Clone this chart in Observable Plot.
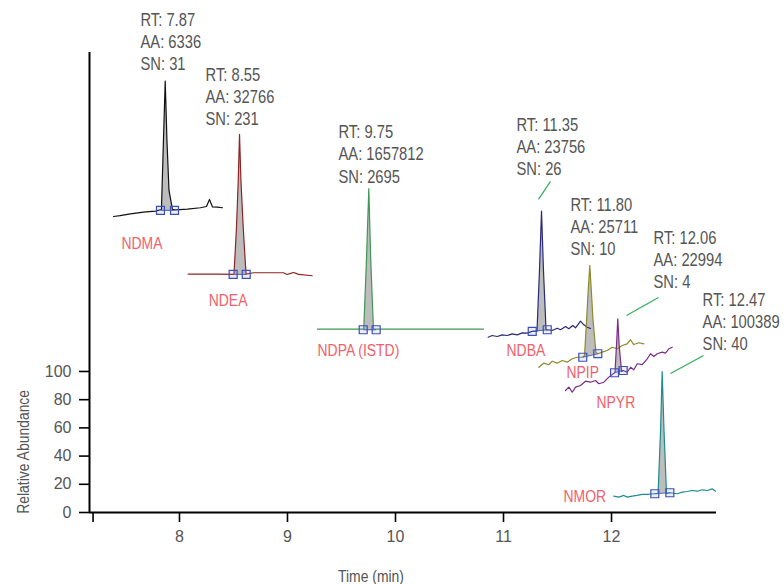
<!DOCTYPE html>
<html>
<head>
<meta charset="utf-8">
<script src="https://cdn.jsdelivr.net/npm/d3@7"></script>
<script src="https://cdn.jsdelivr.net/npm/@observablehq/plot@0.6"></script>
<style>
  html, body { margin: 0; padding: 0; background: #fff; }
  #chart svg { display: block; }
</style>
</head>
<body>
<div id="chart"></div>
<script>
// ---- Data: stacked SIM chromatograms of nitrosamines (time in min, relative abundance) ----
const compounds = ["NDMA", "NDEA", "NDPA (ISTD)", "NDBA", "NPIP", "NPYR", "NMOR"];
const retentionTimes = ["7.87", "8.55", "9.75", "11.35", "11.80", "12.06", "12.47"];
const peakAreas = ["6336", "32766", "1657812", "23756", "25711", "22994", "100389"];
const signalToNoise = ["31", "231", "2695", "26", "10", "4", "40"];

const traceNDMA = [[7.389,209.9],[7.45,210.5],[7.546,211.8],[7.667,213.0],[7.778,213.7],[7.833,214.9],[7.849,256.7],[7.868,305.9],[7.884,263.8],[7.903,228.4],[7.935,214.9],[7.963,214.6],[8.074,215.1],[8.194,216.1],[8.25,217.0],[8.278,222.0],[8.306,216.7],[8.35,216.5],[8.398,216.1]];
const traceNDEA = [[8.081,169.0],[8.2,169.0],[8.35,169.0],[8.497,168.9],[8.505,169.1],[8.528,202.3],[8.544,235.5],[8.556,268.1],[8.569,235.5],[8.59,202.3],[8.616,169.1],[8.685,170.0],[8.85,170.0],[8.963,170.0],[8.997,168.8],[9.03,169.6],[9.056,170.2],[9.08,169.6],[9.105,168.8],[9.229,167.9]];
const traceNDPA = [[9.278,130],[9.5,130],[9.701,130],[9.706,130],[9.731,178.7],[9.753,229.6],[9.771,178.7],[9.796,130],[9.821,130],[10.0,130],[10.5,130],[10.815,130]];
const traceNDBA = [[10.858,124.3],[10.895,125.5],[10.942,124.8],[10.988,126.0],[11.034,125.5],[11.081,126.7],[11.127,126.0],[11.173,127.4],[11.219,127.2],[11.266,128.4],[11.31,128.6],[11.333,171.6],[11.352,213.7],[11.37,171.6],[11.394,129.4],[11.405,129.6],[11.451,129.1],[11.497,130.7],[11.528,129.6],[11.574,131.9],[11.605,130.3],[11.642,132.6],[11.667,131.0],[11.713,135.7],[11.744,133.1],[11.775,131.4],[11.806,130.5]];
const traceNPIP = [[11.327,103.0],[11.373,105.9],[11.419,104.8],[11.451,107.3],[11.497,105.9],[11.544,107.8],[11.59,106.6],[11.636,109.0],[11.682,110.1],[11.734,110.1],[11.75,111.3],[11.769,136.2],[11.784,157.4],[11.799,175.2],[11.813,157.4],[11.829,136.2],[11.856,113.5],[11.873,112.6],[11.914,113.7],[11.96,114.9],[12.006,117.2],[12.053,116.1],[12.099,118.4],[12.145,119.6],[12.176,122.5],[12.206,119.1],[12.253,120.4],[12.299,119.6]];
const traceNPYR = [[11.574,86.5],[11.605,88.9],[11.636,85.3],[11.667,88.9],[11.713,90.1],[11.759,93.1],[11.806,92.4],[11.852,93.6],[11.882,91.3],[11.929,92.4],[11.975,96.0],[12.028,99.1],[12.032,99.3],[12.046,118.4],[12.058,137.4],[12.071,118.4],[12.093,100.0],[12.108,100.7],[12.145,99.5],[12.176,103.0],[12.206,101.2],[12.238,105.5],[12.284,104.8],[12.331,109.0],[12.361,112.6],[12.392,110.6],[12.423,112.6],[12.469,113.7],[12.5,113.0],[12.531,116.1],[12.562,117.2]];
const traceNMOR = [[12.021,11.6],[12.068,10.9],[12.114,12.1],[12.145,10.9],[12.192,11.6],[12.238,12.1],[12.284,12.8],[12.331,12.8],[12.401,13.3],[12.431,13.5],[12.454,58.2],[12.469,100],[12.486,58.2],[12.509,13.5],[12.54,14.0],[12.608,13.3],[12.655,14.4],[12.701,14.9],[12.747,15.6],[12.794,15.1],[12.84,16.1],[12.886,15.6],[12.932,16.8],[12.963,15.1]];

// integration start / end points of each peak
const integrationStart = [[7.824,214.2],[8.497,168.8],[9.701,129.6],[11.266,128.4],[11.734,110.1],[12.028,99.1],[12.401,13.3]];
const integrationEnd   = [[7.954,214.2],[8.618,168.8],[9.821,129.6],[11.405,129.6],[11.873,112.6],[12.108,100.7],[12.540,14.0]];

// axis ticks
const xTicks = [7.2, 8, 9, 10, 11, 12];
const xTickLabels = ["", "8", "9", "10", "11", "12"];
const yTicks = [0, 20, 40, 60, 80, 100];

// ---- Layout (annotation anchors in data units) ----
const xDomain = [7.167, 12.972];
const yDomain = [0, 326.2];
const infoAnchor = [[7.639,313.5],[8.241,274.5],[9.472,233.8],[11.120,239.0],[11.620,182.3],[12.389,158.9],[12.843,114.9]];
const nameAnchor = [[7.463,187.0],[8.271,146.2],[9.278,111.3],[11.028,111.3],[11.583,95.7],[11.861,74.0],[11.556,7.8]];
const leaders = [
  {x1: 11.435, y1: 234.8, x2: 11.324, y2: 222.0},
  {x1: 12.435, y1: 152.5, x2: 12.139, y2: 139.7},
  {x1: 12.852, y1: 111.3, x2: 12.546, y2: 98.6}
];

// ---- Styles ----
const traceColors = ["#111111", "#8e2424", "#3f9656", "#2a2a78", "#8c8a2a", "#7a2c88", "#1d8c8c"];
const peakFill = "#bdbdbd";
const markerBlue = "#3c4fb8";
const nameColor = "#f2606a";
const textGray = "#555555";
const leaderGreen = "#2fae5a";
// condensed look: Liberation Sans squeezed horizontally after rendering
const narrow = "'Liberation Sans Narrow', 'Liberation Sans', Arial, sans-serif";
const squeeze = 0.82;

const traces = [traceNDMA, traceNDEA, traceNDPA, traceNDBA, traceNPIP, traceNPYR, traceNMOR];

const marks = [];

// shaded integrated area: closed path from start marker over the peak back to the start
traces.forEach((tr, i) => {
  const s = integrationStart[i], e = integrationEnd[i];
  const seg = [s, ...tr.filter(p => p[0] > s[0] && p[0] < e[0]), e];
  marks.push(Plot.line(seg, {x: d => d[0], y: d => d[1], fill: peakFill, stroke: "none"}));
});

// chromatogram traces
traces.forEach((tr, i) => {
  marks.push(Plot.line(tr, {x: d => d[0], y: d => d[1], stroke: traceColors[i], strokeWidth: 1.2}));
});

// integration baselines and markers
const integ = compounds.map((c, i) => ({
  x1: integrationStart[i][0], y1: integrationStart[i][1],
  x2: integrationEnd[i][0], y2: integrationEnd[i][1]
}));
marks.push(Plot.link(integ, {x1: "x1", y1: "y1", x2: "x2", y2: "y2", stroke: markerBlue, strokeWidth: 1.2, strokeOpacity: 0.8}));
marks.push(Plot.dot([...integrationStart, ...integrationEnd], {
  x: d => d[0], y: d => d[1], symbol: "square", r: 4.5,
  stroke: markerBlue, strokeWidth: 1.2, fill: "#7f90e0", fillOpacity: 0.15
}));

// leader lines
marks.push(Plot.link(leaders, {x1: "x1", y1: "y1", x2: "x2", y2: "y2", stroke: leaderGreen, strokeWidth: 1.2}));

// compound names
const names = compounds.map((c, i) => ({t: nameAnchor[i][0], v: nameAnchor[i][1], text: c}));
marks.push(Plot.text(names, {
  x: "t", y: "v", text: "text", textAnchor: "start", lineAnchor: "bottom",
  fill: nameColor, fontSize: 17, fontFamily: narrow
}));

// peak info blocks
const infos = compounds.map((c, i) => ({
  t: infoAnchor[i][0], v: infoAnchor[i][1],
  text: `RT: ${retentionTimes[i]}\nAA: ${peakAreas[i]}\nSN: ${signalToNoise[i]}`
}));
marks.push(Plot.text(infos, {
  x: "t", y: "v", text: "text", textAnchor: "start", lineAnchor: "bottom",
  lineHeight: 1.24, fill: textGray, fontSize: 18, fontFamily: narrow
}));

// axes
marks.push(Plot.ruleX([xDomain[0]], {y1: yDomain[0], y2: yDomain[1], stroke: "black", strokeWidth: 2}));
marks.push(Plot.ruleY([0], {stroke: "black", strokeWidth: 2}));
marks.push(Plot.axisX({
  ticks: xTicks, tickFormat: (d, i) => xTickLabels[i], tickSize: 10, tickPadding: 8,
  stroke: "black", strokeWidth: 1.6, fill: textGray, fontSize: 16, label: null
}));
marks.push(Plot.axisY({
  ticks: yTicks, tickSize: 10, tickPadding: 8,
  stroke: "black", strokeWidth: 1.6, fill: textGray, fontSize: 16, label: null
}));
marks.push(Plot.text(["Time (min)"], {
  frameAnchor: "bottom", dx: -32, dy: 69, lineAnchor: "bottom", textAnchor: "middle",
  fill: textGray, fontSize: 17, fontFamily: narrow
}));
marks.push(Plot.text(["Relative Abundance"], {
  y: 43, frameAnchor: "left", dx: -66, rotate: -90, textAnchor: "middle",
  fill: textGray, fontSize: 17, fontFamily: narrow
}));

const chart = Plot.plot({
  width: 784,
  height: 584,
  marginLeft: 89,
  marginRight: 68,
  marginTop: 52,
  marginBottom: 72,
  x: {domain: xDomain},
  y: {domain: yDomain},
  style: {fontFamily: "'Liberation Sans', Arial, sans-serif", background: "#fff"},
  marks
});

// squeeze the condensed-font texts horizontally around their anchors
chart.querySelectorAll("g[font-family*='Narrow'] text").forEach(t => {
  const tr = t.getAttribute("transform") || "";
  t.setAttribute("transform", `${tr} scale(${squeeze},1)`);
});

document.getElementById("chart").appendChild(chart);
</script>
</body>
</html>
